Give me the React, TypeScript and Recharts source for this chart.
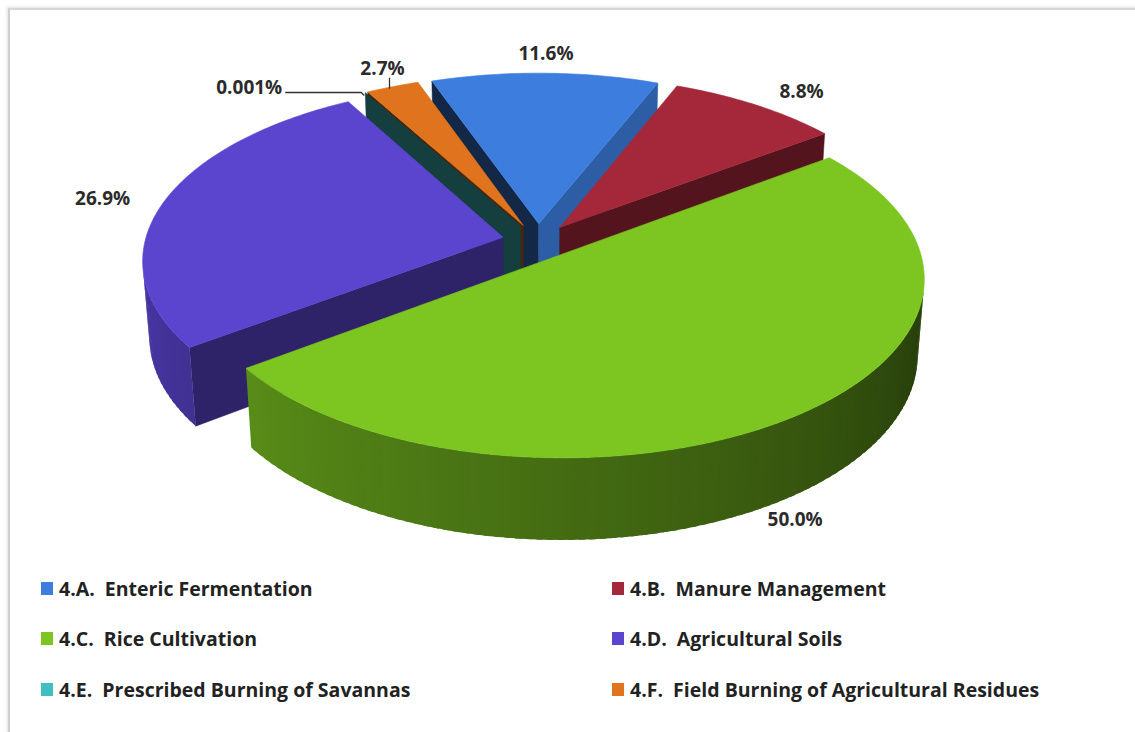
import React from "react";
import { Legend, Pie, PieChart } from "recharts";

const categories = [
  "4.A.  Enteric Fermentation",
  "4.B.  Manure Management",
  "4.C.  Rice Cultivation",
  "4.D.  Agricultural Soils",
  "4.E.  Prescribed Burning of Savannas",
  "4.F.  Field Burning of Agricultural Residues",
];
const shares = [11.6, 8.8, 50.0, 26.9, 0.001, 2.7];
const shareLabels = ["11.6%", "8.8%", "50.0%", "26.9%", "0.001%", "2.7%"];
const colors = ["#3c7ddd", "#a5283a", "#7dc622", "#5b45cf", "#3fbfbf", "#e0731e"];

const data = categories.map((name, i) => ({ name, value: shares[i] }));

// fake 3d view: tilted disc seen in perspective (units = pie radius)
const RAD = Math.PI / 180;
const TILT = 29 * RAD;
const DIST = 7;
const DEPTH = 0.243;
const EXPLODE = 0.1;
const CAM_V = -DIST * Math.cos(TILT);
const FONT = "'Open Sans', 'DejaVu Sans', sans-serif";

// walls are painted back to front, one pie per band of sin(midAngle)
const WALL_BANDS: [number, number][] = [
  [0.9, 2],
  [0.5, 0.9],
  [-0.5, 0.5],
  [-2, -0.5],
];

type SliceProps = {
  cx: number;
  cy: number;
  outerRadius: number;
  startAngle: number;
  endAngle: number;
  midAngle: number;
  percent: number;
  index: number;
};

function project(p: SliceProps, u: number, v: number, w: number) {
  const Y = v * Math.sin(TILT) + w * Math.cos(TILT);
  const Z = DIST + v * Math.cos(TILT) - w * Math.sin(TILT);
  const k = (p.outerRadius * DIST) / Z;
  return [p.cx + k * u, p.cy - k * Y];
}

const toPath = (pts: number[][]) =>
  pts.map((q, i) => `${i ? "L" : "M"}${q[0].toFixed(2)},${q[1].toFixed(2)}`).join("") + "Z";

function shade(hex: string, f: number) {
  const n = parseInt(hex.slice(1), 16);
  const c = [(n >> 16) & 255, (n >> 8) & 255, n & 255].map((x) => Math.min(255, Math.round(x * f)));
  return `rgb(${c[0]},${c[1]},${c[2]})`;
}

const norm = (a: number) => ((a % 360) + 360) % 360;

function wallFactor(a: number) {
  const t = norm(a);
  if (t < 180) return 0.8;
  return Math.max(0.28, 0.82 - ((t - 180) / 180) * 0.55);
}

const FACE_TABLE = [
  [0, 0.8],
  [180, 0.3],
  [210, 0.33],
  [306, 0.5],
  [340, 0.76],
  [360, 0.8],
];
function faceFactor(a: number) {
  const t = norm(a);
  for (let i = 1; i < FACE_TABLE.length; i++) {
    const [a0, f0] = FACE_TABLE[i - 1];
    const [a1, f1] = FACE_TABLE[i];
    if (t <= a1) return f0 + ((t - a0) / (a1 - a0)) * (f1 - f0);
  }
  return 0.8;
}

function offset(p: SliceProps) {
  const m = p.midAngle * RAD;
  return [EXPLODE * Math.cos(m), EXPLODE * Math.sin(m)];
}

const rimVisible = (ou: number, ov: number, a: number) => {
  const pu = ou + Math.cos(a);
  const pv = ov + Math.sin(a);
  return Math.cos(a) * -pu + Math.sin(a) * (CAM_V - pv) > 0;
};

const faces = (lo: number, hi: number) => (p: SliceProps) => {
  const s = Math.sin(p.midAngle * RAD);
  if (s < lo || s >= hi) return <g />;
  const color = colors[p.index];
  const [ou, ov] = offset(p);
  const parts: React.ReactNode[] = [];

  // straight faces along the two radii
  const radii = [
    [p.startAngle, p.startAngle + 90],
    [p.endAngle, p.endAngle - 90],
  ];
  radii.forEach(([edge, nrm], k) => {
    const e = edge * RAD;
    const n = nrm * RAD;
    const pu = ou + 0.5 * Math.cos(e);
    const pv = ov + 0.5 * Math.sin(e);
    const dot = Math.cos(n) * -pu + Math.sin(n) * (CAM_V - pv);
    if (dot <= 0) return;
    const ru = ou + Math.cos(e);
    const rv = ov + Math.sin(e);
    const pts = [project(p, ou, ov, 0), project(p, ru, rv, 0), project(p, ru, rv, -DEPTH), project(p, ou, ov, -DEPTH)];
    const fill = shade(color, faceFactor(nrm));
    parts.push(<path key={`r${k}`} d={toPath(pts)} fill={fill} stroke={fill} strokeWidth={0.5} />);
  });

  // curved rim, split in thin overlapping bands so the light can change along it
  const span = p.startAngle - p.endAngle;
  if (span > 0.05) {
    const steps = Math.max(1, Math.ceil(span / 1.5));
    const step = span / steps;
    for (let k = 0; k < steps; k++) {
      const t0 = p.startAngle - step * k;
      const t1 = Math.max(p.endAngle, t0 - step * 1.6);
      if (!rimVisible(ou, ov, (t0 - step / 2) * RAD)) continue;
      const a = [ou + Math.cos(t0 * RAD), ov + Math.sin(t0 * RAD)];
      const b = [ou + Math.cos(t1 * RAD), ov + Math.sin(t1 * RAD)];
      const pts = [project(p, a[0], a[1], 0), project(p, b[0], b[1], 0), project(p, b[0], b[1], -DEPTH), project(p, a[0], a[1], -DEPTH)];
      const fill = shade(color, wallFactor(t0 - step / 2));
      parts.push(<path key={`w${k}`} d={toPath(pts)} fill={fill} />);
    }
  }
  return <g>{parts}</g>;
};

const topFace = (p: SliceProps) => {
  const span = p.startAngle - p.endAngle;
  if (span < 0.05) return <g />;
  const [ou, ov] = offset(p);
  const steps = Math.max(2, Math.ceil(span));
  const pts = [project(p, ou, ov, 0)];
  for (let k = 0; k <= steps; k++) {
    const a = (p.startAngle - (span * k) / steps) * RAD;
    pts.push(project(p, ou + Math.cos(a), ov + Math.sin(a), 0));
  }
  const fill = colors[p.index];
  return <path d={toPath(pts)} fill={fill} stroke={fill} strokeWidth={0.6} />;
};

const textStyle = { fontFamily: FONT, fontWeight: 700, fontSize: 19, fill: "#2b2b2b" };

const valueLabel = (p: SliceProps) => {
  const m = p.midAngle * RAD;
  const c = Math.cos(m);
  const s = Math.sin(m);
  const text = shareLabels[p.index];

  if (p.percent < 0.05) {
    const [x, y] = project(p, (EXPLODE + 1) * c, (EXPLODE + 1) * s, 0);
    if (p.percent < 0.001) {
      return (
        <g>
          <polyline points={`${x - 1},${y + 3} ${x - 4},${y} ${x - 80},${y}`} fill="none" stroke="#333" strokeWidth={1.3} />
          <text x={x - 83} y={y - 5} textAnchor="end" dominantBaseline="central" {...textStyle}>
            {text}
          </text>
        </g>
      );
    }
    return (
      <g>
        <line x1={x - 3} y1={y + 2} x2={x - 3} y2={y - 9} stroke="#333" strokeWidth={1.3} />
        <text x={x - 10} y={y - 19} textAnchor="middle" dominantBaseline="central" {...textStyle}>
          {text}
        </text>
      </g>
    );
  }

  if (s < -0.2) {
    const [x, y] = project(p, (EXPLODE + 1) * c, (EXPLODE + 1) * s, -DEPTH);
    return (
      <text x={x} y={y + 24} textAnchor="middle" dominantBaseline="central" {...textStyle}>
        {text}
      </text>
    );
  }
  const r = 1.2 + 0.05 * s * s;
  const [x, y] = project(p, r * c, r * s, 0);
  const anchor = Math.abs(c) < 0.35 ? "middle" : c > 0 ? "start" : "end";
  return (
    <text x={x} y={y} textAnchor={anchor} dominantBaseline="central" {...textStyle}>
      {text}
    </text>
  );
};

const legendRows = [
  [0, 1],
  [2, 3],
  [4, 5],
];

function LegendBlock() {
  return (
    <div style={{ position: "relative", height: 150, fontFamily: FONT, fontWeight: 700, fontSize: 19.5, color: "#222" }}>
      {legendRows.map((row, r) =>
        row.map((idx, col) => (
          <div
            key={idx}
            style={{
              position: "absolute",
              left: col === 0 ? 41 : 612,
              top: 6 + r * 50.5,
              height: 24,
              display: "flex",
              alignItems: "center",
              whiteSpace: "pre",
            }}
          >
            <span style={{ width: 12, height: 13, background: colors[idx], marginRight: 6, display: "inline-block" }} />
            <span>{categories[idx]}</span>
          </div>
        )),
      )}
    </div>
  );
}

export default function App() {
  const pieProps = {
    data,
    dataKey: "value",
    nameKey: "name",
    cx: 538,
    cy: 241,
    outerRadius: 358,
    startAngle: 109.7,
    endAngle: -250.3,
    fill: "none",
    stroke: "none",
    labelLine: false,
    isAnimationActive: false,
    legendType: "none" as const,
  };
  return (
    <div style={{ position: "absolute", left: 0, top: 0, width: 1135, height: 732, background: "#fff", overflow: "hidden" }}>
      <div
        style={{
          position: "absolute",
          left: 8,
          top: 8,
          width: 1140,
          height: 740,
          borderTop: "2px solid #d6d6d6",
          borderLeft: "2px solid #cfcfcf",
          boxShadow: "-1px -1px 3px rgba(0,0,0,0.12)",
        }}
      />
      <div style={{ position: "absolute", left: 0, top: 0 }}>
        <PieChart width={1135} height={732} margin={{ top: 0, right: 0, bottom: 0, left: 0 }}>
          {WALL_BANDS.map(([lo, hi], i) => (
            <Pie key={`walls-${i}`} {...pieProps} label={faces(lo, hi)} />
          ))}
          <Pie key="tops" {...pieProps} label={topFace} />
          <Pie key="values" {...pieProps} label={valueLabel} />
          <Legend
            verticalAlign="bottom"
            content={() => <LegendBlock />}
            wrapperStyle={{ position: "absolute", left: 0, top: 570, width: 1135, height: 150 }}
          />
        </PieChart>
      </div>
    </div>
  );
}
